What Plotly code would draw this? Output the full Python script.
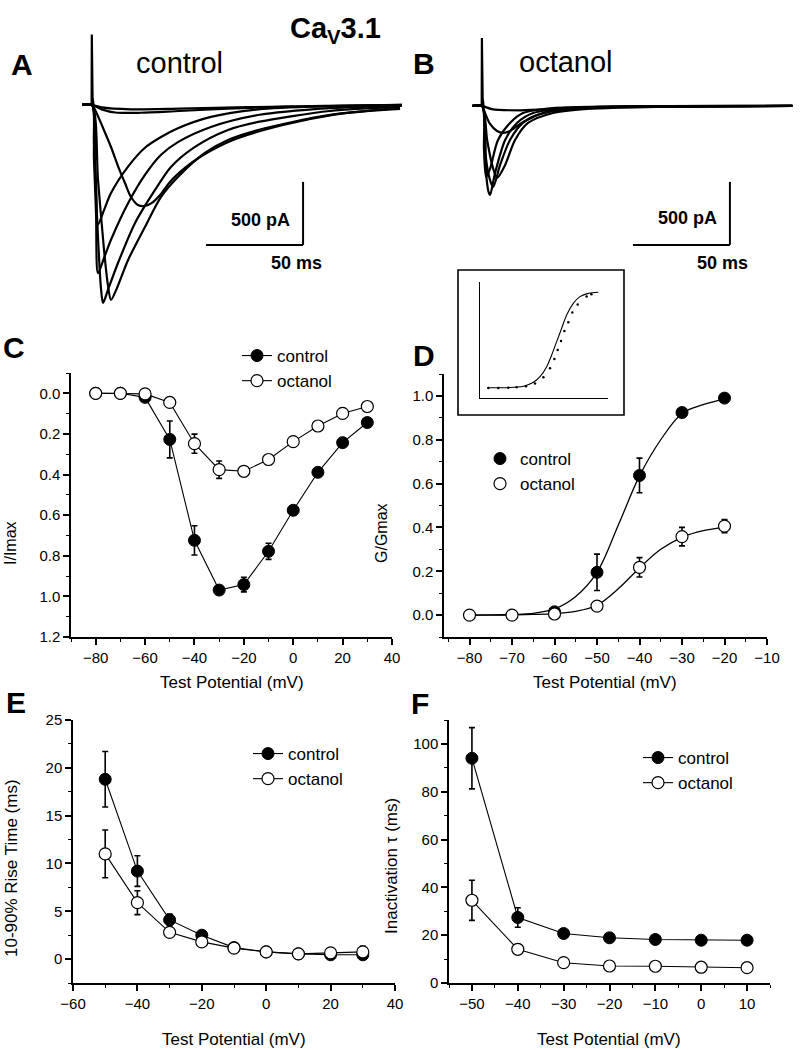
import plotly.graph_objects as go

W, H = 804, 1050
FONT = "Arial, Liberation Sans, sans-serif"

# ---------------- A: control current traces (time ms, current pA) ----------------
a_tiny_t = [0, 5, 20, 45, 80, 120, 160]
a_tiny_i = [0, -20, -35, -30, -18, -8, 0]
a_small_t = [0, 5, 12, 25, 45, 70, 100, 160]
a_small_i = [0, -35, -60, -62, -48, -30, -14, -3]
a_slow_t = [0, 2.1, 5.7, 9.8, 13.4, 17.0, 20.1, 23.7, 27.3, 30.9, 35.1, 40.2, 47.9, 55.7, 72.7, 98.5, 124.2, 158.8]
a_slow_i = [0, -56, -183, -334, -485, -620, -731, -794, -802, -778, -715, -611, -500, -413, -278, -159, -79, -24]
a_p1_t = [0, 1.0, 2.1, 3.1, 6.2, 9.8, 18.6, 27.3, 35.6, 44.3, 61.3, 85.6, 122.7, 160]
a_p1_i = [0, -300, -620, -950, -835, -700, -490, -340, -255, -185, -95, -35, -10, 0]
a_p2_t = [0, 1.0, 2.1, 3.1, 6.2, 9.8, 18.6, 27.3, 35.6, 44.3, 61.3, 85.6, 122.7, 160]
a_p2_i = [0, -420, -870, -1335, -1215, -1070, -780, -555, -395, -295, -175, -80, -25, -5]
a_p3_t = [0, 1.5, 3.1, 4.6, 5.7, 8.2, 13.4, 22.2, 32.5, 40.7, 53.1, 70.1, 85.6, 122.7, 158.8]
a_p3_i = [0, -500, -1050, -1450, -1572, -1469, -1255, -937, -675, -492, -333, -199, -135, -48, -16]
a_p4_t = [0, 3.1, 6.2, 8.2, 9.8, 12.9, 18.6, 27.3, 35.6, 44.3, 58.2, 70.1, 85.6, 122.7, 158.8]
a_p4_i = [0, -595, -1151, -1429, -1548, -1453, -1231, -969, -730, -572, -381, -278, -199, -79, -32]
a_spike_t = [-5, -0.2, -0.1, 0.3, 0.8]
a_spike_i = [0, 0, 560, 60, 0]

# ---------------- B: octanol current traces ----------------
b_tiny_t = [0, 5, 20, 50, 160]
b_tiny_i = [0, -25, -35, -15, 0]
b_slow_t = [0, 1.5, 4.1, 7.7, 10.8, 14.4, 19.6, 27.3, 40.2, 60.8, 160]
b_slow_i = [0, -56, -143, -199, -214, -199, -143, -79, -32, -8, 0]
b_p1_t = [0, 1.0, 2.1, 4.1, 8.2, 14.4, 21.1, 36.6, 60.8, 160]
b_p1_i = [0, -350, -564, -500, -270, -135, -56, -16, -5, 0]
b_p2_t = [0, 1.5, 3.1, 4.1, 6.7, 11.9, 18.0, 26.3, 45.4, 80, 160]
b_p2_i = [0, -429, -667, -707, -532, -270, -135, -56, -16, -5, 0]
b_p3_t = [0, 2.1, 4.1, 5.7, 9.3, 14.4, 21.1, 31.4, 50.5, 90, 160]
b_p3_i = [0, -429, -588, -643, -468, -270, -135, -56, -16, -5, 0]
b_p4_t = [0, 2.6, 5.2, 7.7, 11.9, 17.0, 23.7, 36.6, 54.1, 100, 160]
b_p4_i = [0, -270, -468, -572, -468, -270, -135, -56, -24, -5, 0]
b_spike_t = [-5, -0.2, -0.1, 0.3, 0.8]
b_spike_i = [0, 0, 540, 60, 0]

# ---------------- C: I/V ----------------
V_IV = [-80, -70, -60, -50, -40, -30, -20, -10, 0, 10, 20, 30]
iv_control = [0.0, 0.0, 0.02, 0.227, 0.724, 0.969, 0.942, 0.778, 0.576, 0.389, 0.243, 0.144]
iv_control_err = [0, 0, 0.01, 0.091, 0.072, 0.01, 0.036, 0.04, 0.015, 0.01, 0.01, 0.01]
iv_octanol = [0.0, 0.0, 0.003, 0.045, 0.248, 0.376, 0.384, 0.326, 0.238, 0.161, 0.099, 0.065]
iv_octanol_err = [0, 0, 0.02, 0.01, 0.047, 0.043, 0.02, 0.015, 0.015, 0.02, 0.025, 0.02]

# ---------------- D: G/V ----------------
V_GV_CTL = [-60, -50, -40, -30, -20]
gv_control = [0.015, 0.195, 0.637, 0.924, 0.99]
gv_control_err = [0.012, 0.083, 0.079, 0.02, 0.008]
V_GV_OCT = [-80, -70, -60, -50, -40, -30, -20]
gv_octanol = [0.0, 0.0, 0.005, 0.041, 0.218, 0.358, 0.406]
gv_octanol_err = [0, 0, 0.012, 0.012, 0.044, 0.042, 0.03]
V_FIT = [-80, -75, -70, -65, -60, -55, -50, -45, -40, -35, -30, -25, -20]
fit_control = [0.0, 0.001, 0.003, 0.008, 0.028, 0.085, 0.195, 0.41, 0.635, 0.80, 0.92, 0.96, 0.985]
fit_octanol = [0.0, 0.0, 0.001, 0.003, 0.007, 0.017, 0.045, 0.12, 0.215, 0.30, 0.355, 0.385, 0.40]

# inset (normalised G/V, arbitrary units)
inset_fit_x = [0.065, 0.208, 0.339, 0.417, 0.469, 0.521, 0.560, 0.599, 0.638, 0.677, 0.729, 0.781, 0.846, 0.924]
inset_fit_y = [0.089, 0.089, 0.101, 0.135, 0.184, 0.270, 0.371, 0.486, 0.601, 0.716, 0.816, 0.874, 0.902, 0.911]
inset_dot_x = [0.065, 0.143, 0.221, 0.286, 0.359, 0.430, 0.495, 0.547, 0.581, 0.607, 0.633, 0.659, 0.690, 0.721, 0.763, 0.833, 0.87]
inset_dot_y = [0.086, 0.086, 0.089, 0.092, 0.101, 0.124, 0.178, 0.256, 0.336, 0.414, 0.491, 0.578, 0.652, 0.736, 0.807, 0.876, 0.895]

# ---------------- E: rise time ----------------
V_RISE = [-50, -40, -30, -20, -10, 0, 10, 20, 30]
rise_control = [18.8, 9.2, 4.1, 2.5, 1.2, 0.75, 0.55, 0.45, 0.45]
rise_control_err = [2.9, 1.6, 0.6, 0.3, 0.3, 0.3, 0.3, 0.3, 0.3]
rise_octanol = [11.0, 5.9, 2.8, 1.8, 1.15, 0.75, 0.55, 0.65, 0.75]
rise_octanol_err = [2.5, 1.25, 0.4, 0.3, 0.3, 0.3, 0.3, 0.3, 0.6]

# ---------------- F: inactivation tau ----------------
V_TAU = [-50, -40, -30, -20, -10, 0, 10]
tau_control = [94.0, 27.4, 20.7, 18.9, 18.2, 17.9, 17.9]
tau_control_err = [12.8, 4.1, 1.0, 1.0, 1.0, 1.0, 1.0]
tau_octanol = [34.6, 14.1, 8.5, 7.1, 7.0, 6.6, 6.4]
tau_octanol_err = [8.4, 2.0, 1.5, 1.5, 1.5, 1.5, 1.5]


# page-pixel -> paper helpers
def px(x):
    return x / W


def py(y):
    return 1 - y / H


def dx(p0, p1):
    return [px(p0), px(p1)]


def dy(top, bottom):
    return [py(bottom), py(top)]


fig = go.Figure()

# current traces
a_sets = [(a_tiny_t, a_tiny_i), (a_small_t, a_small_i), (a_slow_t, a_slow_i), (a_p1_t, a_p1_i),
          (a_p2_t, a_p2_i), (a_p3_t, a_p3_i), (a_p4_t, a_p4_i)]
b_sets = [(b_tiny_t, b_tiny_i), (b_slow_t, b_slow_i), (b_p1_t, b_p1_i), (b_p2_t, b_p2_i),
          (b_p3_t, b_p3_i), (b_p4_t, b_p4_i)]
TRACE_LINE = dict(color="black", width=2.2, shape="spline", smoothing=0.8)
for t, i in a_sets:
    fig.add_trace(go.Scatter(x=[-5] + t, y=[0] + i, mode="lines", line=TRACE_LINE,
                             xaxis="x", yaxis="y", showlegend=False, hoverinfo="skip"))
fig.add_trace(go.Scatter(x=a_spike_t, y=a_spike_i, mode="lines", line=dict(color="black", width=2.2),
                         xaxis="x", yaxis="y", showlegend=False))
for t, i in b_sets:
    fig.add_trace(go.Scatter(x=[-5] + t, y=[0] + i, mode="lines", line=TRACE_LINE,
                             xaxis="x2", yaxis="y2", showlegend=False, hoverinfo="skip"))
fig.add_trace(go.Scatter(x=b_spike_t, y=b_spike_i, mode="lines", line=dict(color="black", width=2.2),
                         xaxis="x2", yaxis="y2", showlegend=False))


def err(arr):
    return dict(type="data", array=arr, visible=True, color="black", thickness=1.6, width=3)


FILLED = dict(symbol="circle", size=12, color="black", line=dict(color="black", width=1))
OPEN = dict(symbol="circle", size=12, color="white", line=dict(color="black", width=1.2))
LINE = dict(color="black", width=1.1)

# C
fig.add_trace(go.Scatter(x=V_IV, y=iv_control, error_y=err(iv_control_err), mode="lines+markers", name="control",
                         marker=FILLED, line=LINE, xaxis="x3", yaxis="y3", legend="legend"))
fig.add_trace(go.Scatter(x=V_IV, y=iv_octanol, error_y=err(iv_octanol_err), mode="lines+markers", name="octanol",
                         marker=OPEN, line=LINE, xaxis="x3", yaxis="y3", legend="legend"))

# D
fig.add_trace(go.Scatter(x=V_FIT, y=fit_control, mode="lines", line=dict(color="black", width=1.3, shape="spline"),
                         xaxis="x4", yaxis="y4", showlegend=False))
fig.add_trace(go.Scatter(x=V_FIT, y=fit_octanol, mode="lines", line=dict(color="black", width=1.3, shape="spline"),
                         xaxis="x4", yaxis="y4", showlegend=False))
fig.add_trace(go.Scatter(x=V_GV_CTL, y=gv_control, error_y=err(gv_control_err), mode="markers", name="control",
                         marker=FILLED, xaxis="x4", yaxis="y4", legend="legend2"))
fig.add_trace(go.Scatter(x=V_GV_OCT, y=gv_octanol, error_y=err(gv_octanol_err), mode="markers", name="octanol",
                         marker=OPEN, xaxis="x4", yaxis="y4", legend="legend2"))

# inset
fig.add_trace(go.Scatter(x=inset_fit_x, y=inset_fit_y, mode="lines", line=dict(color="black", width=1.1, shape="spline"),
                         xaxis="x7", yaxis="y7", showlegend=False))
fig.add_trace(go.Scatter(x=inset_dot_x, y=inset_dot_y, mode="markers", marker=dict(color="black", size=2.5),
                         xaxis="x7", yaxis="y7", showlegend=False))

# E
fig.add_trace(go.Scatter(x=V_RISE, y=rise_control, error_y=err(rise_control_err), mode="lines+markers", name="control",
                         marker=FILLED, line=LINE, xaxis="x5", yaxis="y5", legend="legend3"))
fig.add_trace(go.Scatter(x=V_RISE, y=rise_octanol, error_y=err(rise_octanol_err), mode="lines+markers", name="octanol",
                         marker=OPEN, line=LINE, xaxis="x5", yaxis="y5", legend="legend3"))

# F
fig.add_trace(go.Scatter(x=V_TAU, y=tau_control, error_y=err(tau_control_err), mode="lines+markers", name="control",
                         marker=FILLED, line=LINE, xaxis="x6", yaxis="y6", legend="legend4"))
fig.add_trace(go.Scatter(x=V_TAU, y=tau_octanol, error_y=err(tau_octanol_err), mode="lines+markers", name="octanol",
                         marker=OPEN, line=LINE, xaxis="x6", yaxis="y6", legend="legend4"))


def sci_axis(domain, rng, dtick, minor, anchor, fmt=None):
    ax = dict(domain=domain, range=rng, dtick=dtick, anchor=anchor, showline=True, linecolor="black", linewidth=1.5,
              ticks="outside", ticklen=6, tickwidth=1.5, tickcolor="black", automargin=False,
              minor=dict(dtick=minor, ticks="outside", ticklen=3, tickwidth=1.2, tickcolor="black"),
              showgrid=False, zeroline=False, tickfont=dict(size=15, family=FONT, color="black"))
    if fmt:
        ax["tickformat"] = fmt
    return ax


hidden = dict(visible=False, showgrid=False, zeroline=False, automargin=False)
bare = dict(showline=True, linecolor="black", linewidth=1, showticklabels=False, ticks="",
            showgrid=False, zeroline=False, automargin=False)

legend_common = dict(font=dict(size=17, family=FONT, color="black"), bgcolor="rgba(0,0,0,0)",
                     xanchor="left", yanchor="top", tracegroupgap=0, itemwidth=30, borderwidth=0)

fig.update_layout(
    width=W, height=H, autosize=False,
    margin=dict(l=0, r=0, t=0, b=0, pad=0),
    paper_bgcolor="white", plot_bgcolor="white",
    font=dict(family=FONT, color="black"),
    xaxis=dict(domain=dx(82, 402), range=[-5.15, 159.8], anchor="y", **hidden),
    yaxis=dict(domain=dy(30, 310), range=[-1628, 595], anchor="x", **hidden),
    xaxis2=dict(domain=dx(472, 797), range=[-5.2, 162.4], anchor="y2", **hidden),
    yaxis2=dict(domain=dy(30, 310), range=[-1620, 603], anchor="x2", **hidden),
    xaxis3=sci_axis(dx(71, 392), [-90, 40], 20, 10, "y3"),
    yaxis3=sci_axis(dy(373, 637), [1.2, -0.1], 0.2, 0.1, "x3", ".1f"),
    xaxis4=sci_axis(dx(444, 767), [-86, -10], 10, 5, "y4"),
    yaxis4=sci_axis(dy(374, 637), [-0.1, 1.1], 0.2, 0.1, "x4", ".1f"),
    xaxis5=sci_axis(dx(73, 395), [-60, 40], 20, 10, "y5"),
    yaxis5=sci_axis(dy(720, 983), [-2.5, 25], 5, 2.5, "x5"),
    xaxis6=sci_axis(dx(449, 770), [-55, 15], 10, 5, "y6"),
    yaxis6=sci_axis(dy(720, 983), [0, 110], 20, 10, "x6"),
    xaxis7=dict(domain=dx(480, 608), range=[0, 1], anchor="y7", **bare),
    yaxis7=dict(domain=dy(282, 398), range=[0, 1], anchor="x7", **bare),
    legend=dict(x=px(237), y=py(338), **legend_common),
    legend2=dict(x=px(480), y=py(441), **legend_common),
    legend3=dict(x=px(248), y=py(736), **legend_common),
    legend4=dict(x=px(638), y=py(740), **legend_common),
)

# scale bars
SCALE_A = dict(t0=58.8, t1=108.8, i0=-611, i1=-1111)
SCALE_B = dict(t0=77.8, t1=127.8, i0=-603, i1=-1103)
shapes = []
for sb, xr, yr in [(SCALE_A, "x", "y"), (SCALE_B, "x2", "y2")]:
    shapes.append(dict(type="line", xref=xr, yref=yr, x0=sb["t1"], x1=sb["t1"], y0=sb["i0"], y1=sb["i1"],
                       line=dict(color="black", width=2)))
    shapes.append(dict(type="line", xref=xr, yref=yr, x0=sb["t0"], x1=sb["t1"], y0=sb["i1"], y1=sb["i1"],
                       line=dict(color="black", width=2)))
# inset frame
shapes.append(dict(type="rect", xref="paper", yref="paper", x0=px(458), x1=px(624), y0=py(415), y1=py(270),
                   line=dict(color="black", width=1.6), fillcolor="white", layer="below"))
fig.update_layout(shapes=shapes)


def label(text, x, y, size, angle=0):
    return dict(text=text, x=px(x), y=py(y), xref="paper", yref="paper", showarrow=False,
                font=dict(size=size, family=FONT, color="black"), xanchor="center", yanchor="middle", textangle=angle)


annotations = [
    label("<b>Ca<sub>V</sub>3.1</b>", 335, 30, 29),
    label("<b>A</b>", 22, 64, 30), label("<b>B</b>", 424, 63, 30),
    label("<b>C</b>", 14, 347, 30), label("<b>D</b>", 424, 355, 30),
    label("<b>E</b>", 16, 702, 30), label("<b>F</b>", 420, 703, 30),
    label("control", 179, 63, 29), label("octanol", 566, 62, 29),
    label("<b>500 pA</b>", 260, 220, 18), label("<b>50 ms</b>", 296, 263, 18),
    label("<b>500 pA</b>", 687, 218, 18), label("<b>50 ms</b>", 722, 263, 18),
    label("Test Potential (mV)", 232, 682, 17), label("Test Potential (mV)", 605, 682, 17),
    label("Test Potential (mV)", 234, 1039, 17), label("Test Potential (mV)", 609, 1039, 17),
    label("I/Imax", 10, 543, 16, -90), label("G/Gmax", 381, 533, 16, -90),
    label("10-90% Rise Time (ms)", 11, 868, 17, -90), label("Inactivation τ (ms)", 391, 866, 17, -90),
]
fig.update_layout(annotations=annotations)

# the page body margin would push the 804x1050 figure off the window, so remove it
fig.write_html("out.html", config={"displayModeBar": False},
               post_script="document.body.style.margin='0px';")
